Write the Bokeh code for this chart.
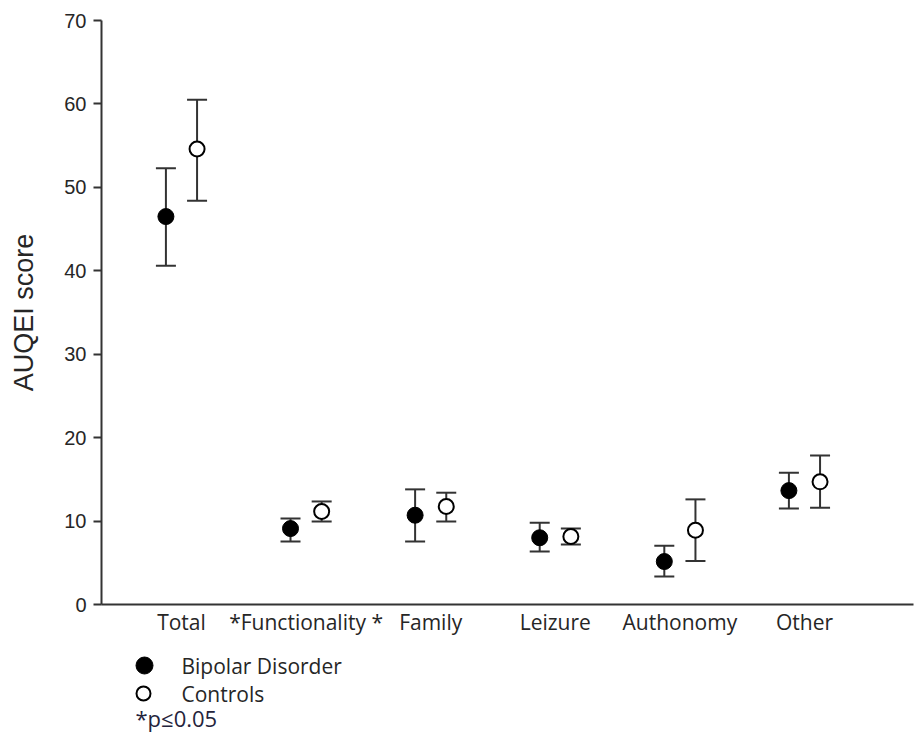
from bokeh.plotting import figure
from bokeh.models import ColumnDataSource, Whisker, TeeHead, FixedTicker, Range1d
from bokeh.layouts import column
from bokeh.core.properties import value
from bokeh.embed import file_html
from bokeh.resources import INLINE
import numpy as np

# ---- data ----
categories = ["Total", "Functionality", "Family", "Leizure", "Authonomy", "Other"]
tick_labels = ["Total", "*Functionality *", "Family", "Leizure", "Authonomy", "Other"]
y_ticks = [0, 10, 20, 30, 40, 50, 60, 70]

bd_mean = [46.5, 9.1, 10.7, 8.0, 5.15, 13.65]
bd_upper = [52.3, 10.3, 13.8, 9.8, 7.05, 15.8]
bd_lower = [40.6, 7.55, 7.55, 6.35, 3.35, 11.5]

ctrl_mean = [54.6, 11.15, 11.75, 8.15, 8.9, 14.7]
ctrl_upper = [60.5, 12.35, 13.4, 9.1, 12.6, 17.85]
ctrl_lower = [48.4, 9.95, 9.95, 7.2, 5.2, 11.6]

legend_labels = ["Bipolar Disorder", "Controls"]
footnote = "*p\u22640.05"

# ---- styling ----
LINE = "#333333"
TXT = "#262626"
offset = 0.125
idx = np.arange(len(categories))

p = figure(width=916, height=640,
           x_range=Range1d(-0.642, 5.875), y_range=Range1d(0, 70),
           min_border_left=101, min_border_right=3, min_border_top=20, min_border_bottom=36,
           output_backend="svg", toolbar_location=None)
p.outline_line_color = None
p.xgrid.visible = False
p.ygrid.visible = False
p.background_fill_color = "white"
p.border_fill_color = "white"

bd_src = ColumnDataSource(dict(x=idx - offset, y=bd_mean, up=bd_upper, lo=bd_lower))
ct_src = ColumnDataSource(dict(x=idx + offset, y=ctrl_mean, up=ctrl_upper, lo=ctrl_lower))

for src in (bd_src, ct_src):
    w = Whisker(source=src, base="x", upper="up", lower="lo", dimension="height",
                line_color=LINE, line_width=2,
                upper_head=TeeHead(size=20, line_color=LINE, line_width=2),
                lower_head=TeeHead(size=20, line_color=LINE, line_width=2))
    p.add_layout(w)

p.scatter("x", "y", source=bd_src, size=16, fill_color="black", line_color="black", line_width=1)
p.scatter("x", "y", source=ct_src, size=15, fill_color="white", line_color="black", line_width=2)

# y axis
ya = p.yaxis[0]
ya.ticker = FixedTicker(ticks=y_ticks)
ya.minor_tick_line_color = None
ya.major_tick_out = 8
ya.major_tick_in = 0
ya.axis_line_color = LINE
ya.axis_line_width = 2
ya.major_tick_line_color = LINE
ya.major_tick_line_width = 2
ya.major_label_text_font = "Liberation Sans"
ya.major_label_text_font_size = "20px"
ya.major_label_text_color = TXT
ya.major_label_standoff = 7
ya.axis_label = "AUQEI score"
ya.axis_label_text_font = "Liberation Sans"
ya.axis_label_text_font_size = "27px"
ya.axis_label_text_font_style = "normal"
ya.axis_label_text_color = TXT
ya.axis_label_standoff = 22

# x axis
xa = p.xaxis[0]
xa.ticker = FixedTicker(ticks=list(idx))
xa.major_label_overrides = {int(i): lab for i, lab in zip(idx, tick_labels)}
xa.minor_tick_line_color = None
xa.major_tick_out = 0
xa.major_tick_in = 0
xa.axis_line_color = LINE
xa.axis_line_width = 2
xa.major_label_text_font = "Open Sans"
xa.major_label_text_font_size = "21px"
xa.major_label_text_color = TXT
xa.major_label_standoff = 3

# ---- legend panel (frame aligned with the main plot, x range in page pixels) ----
lg = figure(width=916, height=100, x_range=Range1d(101, 913), y_range=Range1d(100, 0),
            min_border=0, min_border_left=101, min_border_right=3,
            output_backend="svg", toolbar_location=None,
            x_axis_location=None, y_axis_location=None)
lg.outline_line_color = None
lg.xgrid.visible = False
lg.ygrid.visible = False

lg.scatter([144], [25], size=17, fill_color="black", line_color="black")
lg.scatter([143], [53], size=14, fill_color="white", line_color="black", line_width=2)
lg.text([181, 181], [25, 53], text=legend_labels, text_font=value("Open Sans"),
        text_font_size="21px", text_baseline="middle", text_align="left", text_color=TXT)
lg.text([135], [77], text=[footnote], text_font=value("Open Sans"),
        text_font_size="22px", text_baseline="middle", text_align="left", text_color="#24243c")

layout = column(p, lg, spacing=0)
open("out.html", "w").write(file_html(layout, INLINE))
